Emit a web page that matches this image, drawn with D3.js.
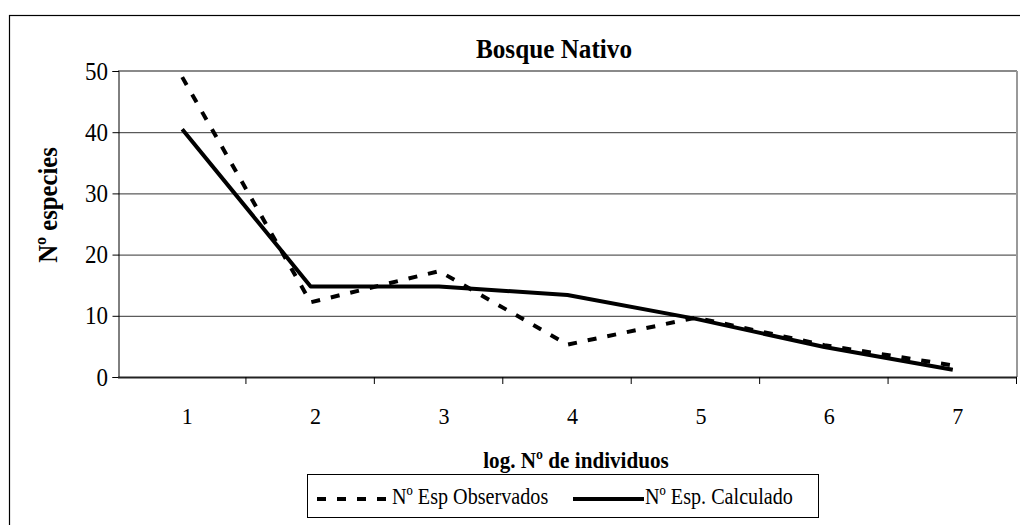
<!DOCTYPE html>
<html>
<head>
<meta charset="utf-8">
<script src="https://cdn.jsdelivr.net/npm/d3@7"></script>
<style>
  html, body { margin: 0; padding: 0; background: #fff; }
  svg { display: block; font-family: "Liberation Serif", "Times New Roman", serif; }
</style>
</head>
<body>
<svg id="chart" width="1020" height="525"></svg>
<script>
const categories = ["1", "2", "3", "4", "5", "6", "7"];
const observados = [49, 12.2, 17.3, 5.3, 9.7, 5.2, 1.9];
const calculados = [40.5, 14.8, 14.8, 13.4, 9.5, 4.9, 1.2];
const yTicks = [0, 10, 20, 30, 40, 50];
const seriesNames = ["Nº Esp Observados", "Nº Esp. Calculado"];
const titleText = "Bosque Nativo";
const xTitle = "log. Nº de individuos";
const yTitle = "Nº  especies";

const svg = d3.select("#chart");
const L = 118, R = 1017, T = 71, B = 377;

function label(parent, x0, y0, txt, size, sx, anchor, bold, rot) {
  const g = parent.append("g")
    .attr("transform", `translate(${x0},${y0})` + (rot ? ` rotate(${rot})` : "") + ` scale(${sx},1)`);
  g.append("text").attr("text-anchor", anchor || "start")
    .attr("font-size", size).attr("font-weight", bold ? "bold" : "normal")
    .attr("fill", "#000").text(txt);
  return g;
}

// outer frame
svg.append("rect").attr("x", 9.5).attr("y", 15.5).attr("width", 1100).attr("height", 600)
  .attr("fill", "none").attr("stroke", "#000").attr("stroke-width", 1.2);

const x = d3.scaleBand().domain(categories).range([L, R]).padding(0);
const xc = d => x(d) + x.bandwidth() / 2;
const y = d3.scaleLinear().domain([0, 50]).range([B, T]);

// gridlines
svg.append("g").selectAll("line").data(yTicks.filter(v => v > 0 && v < 50)).join("line")
  .attr("x1", L).attr("x2", R).attr("y1", d => y(d) + 0.5).attr("y2", d => y(d) + 0.5)
  .attr("stroke", "#333").attr("stroke-width", 1);
svg.append("line").attr("x1", L).attr("x2", R).attr("y1", y(50)).attr("y2", y(50))
  .attr("stroke", "#8a8a8a").attr("stroke-width", 2);
svg.append("line").attr("x1", R).attr("x2", R).attr("y1", y(50)).attr("y2", B)
  .attr("stroke", "#999").attr("stroke-width", 2);

// y axis
const yAxis = svg.append("g").attr("transform", `translate(${L + 0.5},0)`)
  .call(d3.axisLeft(y).tickValues(yTicks).tickSize(6).tickFormat(""));
yAxis.select(".domain").attr("stroke", "#000");
yAxis.selectAll(".tick line").attr("stroke", "#000");
const yl = svg.append("g");
yTicks.forEach(v => label(yl, 108, y(v) + 8.5, d3.format("d")(v), 25, 0.92, "end"));

// x axis
svg.append("line").attr("x1", L).attr("x2", R).attr("y1", B + 0.5).attr("y2", B + 0.5)
  .attr("stroke", "#222").attr("stroke-width", 2);
const bounds = categories.map(c => x(c) + x.bandwidth());
svg.append("g").selectAll("line").data(bounds).join("line")
  .attr("x1", d => d - 0.5).attr("x2", d => d - 0.5).attr("y1", B).attr("y2", B + 7)
  .attr("stroke", "#000").attr("stroke-width", 1);
const xl = svg.append("g");
categories.forEach(c => label(xl, xc(c) + 5, 424, c, 24, 0.92, "middle"));

// lines
const lineGen = d3.line().x((d, i) => xc(categories[i])).y(d => y(d));
svg.append("path").datum(calculados).attr("d", lineGen)
  .attr("fill", "none").attr("stroke", "#000").attr("stroke-width", 4).attr("stroke-linejoin", "round");
svg.append("path").datum(observados).attr("d", lineGen)
  .attr("fill", "none").attr("stroke", "#000").attr("stroke-width", 4)
  .attr("stroke-dasharray", "9,11");

// titles
label(svg, 554, 58, titleText, 28, 0.9, "middle", true);
label(svg, 576, 468, xTitle, 23, 0.92, "middle", true);
label(svg, 57, 205, yTitle, 28, 0.88, "middle", true, -90);

// legend
const lg = svg.append("g");
lg.append("rect").attr("x", 307.5).attr("y", 474.5).attr("width", 511).attr("height", 43)
  .attr("fill", "#fff").attr("stroke", "#000").attr("stroke-width", 1);
lg.append("line").attr("x1", 317).attr("x2", 390).attr("y1", 499).attr("y2", 499)
  .attr("stroke", "#000").attr("stroke-width", 4).attr("stroke-dasharray", "9,11");
label(lg, 392, 504, seriesNames[0], 24, 0.84, "start");
lg.append("line").attr("x1", 573).attr("x2", 644).attr("y1", 499).attr("y2", 499)
  .attr("stroke", "#000").attr("stroke-width", 4);
label(lg, 645, 504, seriesNames[1], 24, 0.84, "start");
</script>
</body>
</html>
